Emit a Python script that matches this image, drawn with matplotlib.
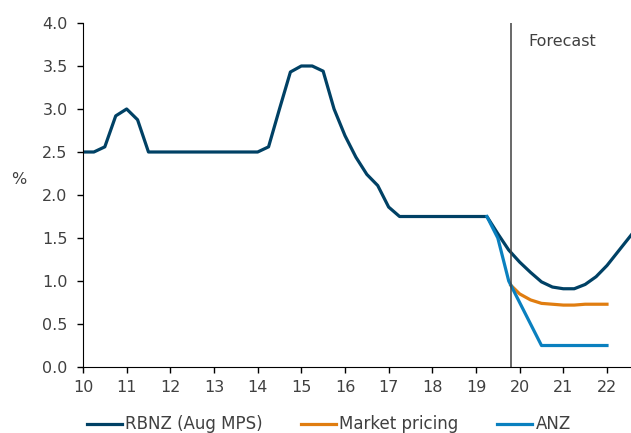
import numpy as np
import matplotlib.pyplot as plt

plt.rcParams['font.family'] = ['DejaVu Sans']

# quarterly OCR path, 2010 onwards (x in years since 2000)
rbnz_x = np.arange(52) * 0.25 + 10
rbnz = [2.5, 2.5, 2.56, 2.92, 3.0, 2.875, 2.5, 2.5, 2.5, 2.5,
        2.5, 2.5, 2.5, 2.5, 2.5, 2.5, 2.5, 2.56, 3.0, 3.43,
        3.5, 3.5, 3.44, 3.0, 2.69, 2.44, 2.24, 2.11, 1.86, 1.75,
        1.75, 1.75, 1.75, 1.75, 1.75, 1.75, 1.75, 1.75, 1.55, 1.36,
        1.22, 1.10, 0.99, 0.93, 0.91, 0.91, 0.96, 1.05, 1.18, 1.34,
        1.50, 1.66]

market_x = [19.8, 20.0, 20.25, 20.5, 20.75, 21.0, 21.25, 21.5, 21.75, 22.0]
market = [0.95, 0.85, 0.78, 0.74, 0.73, 0.72, 0.72, 0.73, 0.73, 0.73]

anz_x = np.arange(12) * 0.25 + 19.25
anz = [1.75, 1.5, 1.0, 0.75, 0.5, 0.25, 0.25, 0.25, 0.25, 0.25, 0.25, 0.25]

forecast_start = 19.8
years = list(range(10, 23))

fig = plt.figure(figsize=(6.31, 4.33), dpi=100)
ax = fig.add_axes([0.1315, 0.1524, 0.8685, 0.7945])

ax.plot(rbnz_x, rbnz, color='#004165', lw=2.3, label='RBNZ (Aug MPS)')
ax.plot(market_x, market, color='#E07D10', lw=2.3, label='Market pricing')
ax.plot(anz_x, anz, color='#0A80BF', lw=2.3, label='ANZ')

ax.axvline(forecast_start, ymin=0, ymax=1, color='#404040', lw=1.1)
ax.text(20.2, 3.78, 'Forecast', color='#404040', fontsize=11.5, va='center')

ax.set_xlim(10, 22.55)
ax.set_ylim(0, 4)
ax.set_xticks(years)
ax.set_xticklabels([str(y) for y in years])
ax.set_yticks(np.arange(0, 4.01, 0.5))
ax.set_yticklabels([f'{v:.1f}' for v in np.arange(0, 4.01, 0.5)])
ax.tick_params(axis='both', direction='out', length=4, width=1,
               labelsize=11.5, labelcolor='#404040', color='black')
ax.tick_params(axis='x', pad=5)
ax.tick_params(axis='y', pad=7)
ax.set_ylabel('%', rotation=0, fontsize=11.5, color='#404040')
ax.yaxis.set_label_coords(-0.118, 0.522)

for side in ['top', 'right']:
    ax.spines[side].set_visible(False)
ax.spines['left'].set_color('black')
ax.spines['bottom'].set_color('black')

fig.legend(loc='center', bbox_to_anchor=(0.521, 0.02), ncol=3, frameon=False,
           fontsize=12, handlelength=2.1, handletextpad=0.2, columnspacing=2.3,
           labelcolor='#404040')

fig.savefig('out.png', dpi=100)
